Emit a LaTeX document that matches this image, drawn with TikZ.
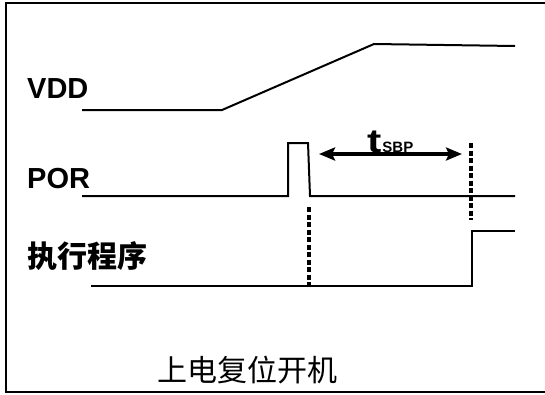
\documentclass[tikz,border=0pt]{standalone}
\usepackage{fontspec}
\setmainfont{Liberation Sans}
\newfontfamily\cjk{Noto Sans CJK SC}
\usetikzlibrary{arrows.meta}
\tikzset{
	signal/.style={line width=2pt},
	marker/.style={line width=3.5pt, dash pattern=on 5pt off 2.5pt},
	sig label/.style={anchor=base west, inner sep=0pt, font=\fontsize{29}{29}\selectfont\bfseries},
	cjk label/.style={inner sep=0pt, font=\fontsize{30}{30}\selectfont\cjk}
}

\begin{document}
\begin{tikzpicture}[x=1pt, y=-1pt]
	% 1px = 1pt, y grows downwards
	\useasboundingbox (0,0) rectangle (545,394);
	% frame, open at the right
	\draw[line width=2.5pt] (545,3) -- (6,3) -- (6,392) -- (545,392);
	% labels
	\node[sig label] (vdd) at (27,98) {VDD};
	\node[sig label] (por) at (27,188) {POR};
	\node[cjk label, anchor=west, font=\fontsize{30}{30}\selectfont\cjk\bfseries] (exec) at (27,256) {执行程序};
	\node[cjk label] (title) at (247,370) {上电复位开机};
	% VDD ramp
	\draw[signal] (82,110) -- (222,110) -- (374,44) -- (515,46);
	% POR pulse
	\draw[signal] (82,196) -- (288,196) -- (288,143) -- (308,143) -- (310,196) -- (515,196);
	% program start
	\draw[signal] (91,286) -- (472,286) -- (472,231) -- (515,231);
	% markers
	\draw[marker] (471,143) -- (471,220);
	\draw[marker] (309,207) -- (309,286);
	% delay t_SBP
	\coordinate (tsbp start) at (319,154);
	\coordinate (tsbp end) at (462,154);
	\draw[line width=3.5pt, {Stealth[length=16pt,width=13pt,inset=3pt]}-{Stealth[length=16pt,width=13pt,inset=3pt]}] (tsbp start) -- (tsbp end);
	\node[anchor=base west, inner sep=0pt] (tsbp) at (367,152) {\fontsize{33}{33}\selectfont\bfseries \scalebox{1.3}[1]{t}\kern1pt\fontsize{15}{15}\selectfont SBP};
\end{tikzpicture}
\end{document}
